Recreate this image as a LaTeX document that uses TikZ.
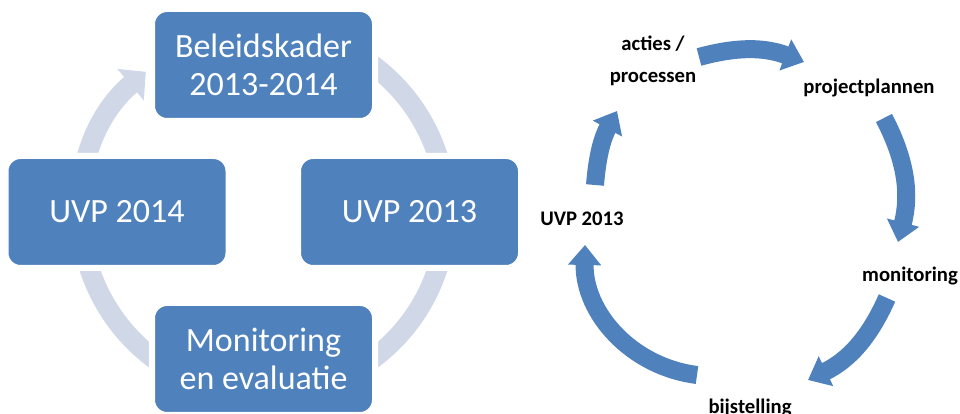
\documentclass[tikz,border=0pt]{standalone}
\usepackage{fontspec}
\setmainfont{Carlito}
\usetikzlibrary{arrows.meta}
\definecolor{boxblue}{RGB}{79,129,189}
\definecolor{ringgray}{RGB}{208,216,232}
\begin{document}
\begin{tikzpicture}[x=1pt,y=1pt,
  cyclebox/.style={draw=white, line width=6pt, fill=boxblue, rounded corners=15pt,
    minimum width=223pt, minimum height=112pt, inner sep=0pt, text=white,
    align=center, font=\fontsize{34}{37.5}\selectfont},
  lbl/.style={font=\bfseries\fontsize{20.7}{32}\selectfont, inner sep=0pt, align=center, anchor=base},
  bigarrow/.style={boxblue, line width=18pt, -{Triangle[width=32pt,length=20pt]}},
]
\useasboundingbox (0,0) rectangle (960,414);
% left cycle ring
\coordinate (lc) at (263.5,202);
\draw[ringgray, line width=20pt, -{Triangle[width=40pt,length=20pt]}]
  (lc) ++(480:183) arc[start angle=480, end angle=130, radius=183];
\node[cyclebox] (bk) at (263.5,349) {Beleidskader\\2013-2014};
\node[cyclebox] (u13) at (409.5,202) {UVP 2013};
\node[cyclebox] (me) at (263.5,55) {Monitoring\\en evaluatie};
\node[cyclebox] (u14) at (117,202) {UVP 2014};
% right cycle labels
\node[lbl] (ap) at (653,331) {acties /\\processen};
\node[lbl] (pp) at (869,320) {projectplannen};
\node[lbl] (mo) at (910,132) {monitoring};
\node[lbl] (bs) at (750,0) {bijstelling};
\node[lbl] (uv) at (582,188) {UVP 2013};
% right cycle arrows
\coordinate (a1s) at (699,357); \coordinate (a1e) at (804,352);
\coordinate (a2s) at (884,296); \coordinate (a2e) at (898,172);
\coordinate (a3s) at (887,116); \coordinate (a3e) at (808,34);
\coordinate (a4s) at (697,39);  \coordinate (a4e) at (585,169);
\coordinate (a5s) at (595,229); \coordinate (a5e) at (617,303);
\draw[bigarrow] (a1s) to[bend left=18] (a1e);
\draw[bigarrow] (a2s) to[bend left=21] (a2e);
\draw[bigarrow] (a3s) to[bend left=20] (a3e);
\draw[bigarrow] (a4s) to[bend left=42] (a4e);
\draw[bigarrow] (a5s) to[bend left=12] (a5e);
\end{tikzpicture}
\end{document}
